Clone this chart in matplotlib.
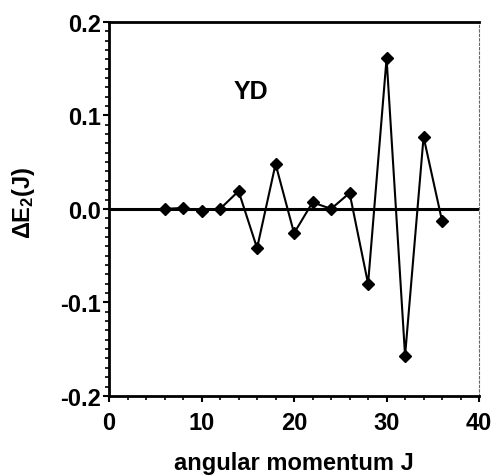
import matplotlib.pyplot as plt
from matplotlib.ticker import MultipleLocator

plt.rcParams['font.family'] = ['Liberation Sans', 'DejaVu Sans']
plt.rcParams['font.weight'] = 'bold'
plt.rcParams['axes.labelweight'] = 'bold'
plt.rcParams['mathtext.fontset'] = 'custom'
plt.rcParams['mathtext.rm'] = 'Liberation Sans:bold'
plt.rcParams['mathtext.it'] = 'Liberation Sans:bold'

# angular momentum and second difference of energy
J = [6, 8, 10, 12, 14, 16, 18, 20, 22, 24, 26, 28, 30, 32, 34, 36]
dE2 = [0.000, 0.001, -0.002, 0.000, 0.019, -0.042, 0.048, -0.026,
       0.007, 0.000, 0.017, -0.080, 0.161, -0.157, 0.077, -0.013]

fig = plt.figure(figsize=(4.98, 4.77), dpi=100)
ax = fig.add_axes([0.219, 0.168, 0.743, 0.784])

ax.axhline(0, color='black', linewidth=2.2, zorder=1)
ax.plot(J, dE2, color='black', linewidth=1.5, marker='D', markersize=6.5, zorder=3)

ax.text(15.3, 0.1265, 'YD', fontsize=18, ha='center', va='center')

ax.set_xlim(0, 40)
ax.set_ylim(-0.2, 0.2)
ax.xaxis.set_major_locator(MultipleLocator(10))
ax.xaxis.set_minor_locator(MultipleLocator(2))
ax.yaxis.set_minor_locator(MultipleLocator(0.01))
ax.set_yticks([0.2, 0.1, 0.0, -0.1, -0.2])
ax.set_yticklabels(['0.2', '0.1', '0.0', '-0.1', '-0.2'])

ax.tick_params(axis='x', which='major', direction='out', length=4, width=1.5,
               labelsize=17, pad=7)
ax.tick_params(axis='y', which='major', direction='out', length=4, width=1.5,
               labelsize=17, pad=2)
ax.tick_params(which='minor', direction='out', length=3, width=1.2)

for side in ['left', 'bottom', 'top']:
    ax.spines[side].set_linewidth(2)
ax.spines['right'].set_linewidth(0.8)
ax.spines['right'].set_color('0.4')
ax.spines['right'].set_linestyle((0, (2, 2)))

ax.set_xlabel('angular momentum J', fontsize=17, fontweight='bold')
ax.set_ylabel(r'ΔE$_2$(J)', fontsize=17, fontweight='bold')
ax.xaxis.set_label_coords(0.5, -0.148)
ax.yaxis.set_label_coords(-0.196, 0.52)

fig.savefig('out.png', dpi=100)
